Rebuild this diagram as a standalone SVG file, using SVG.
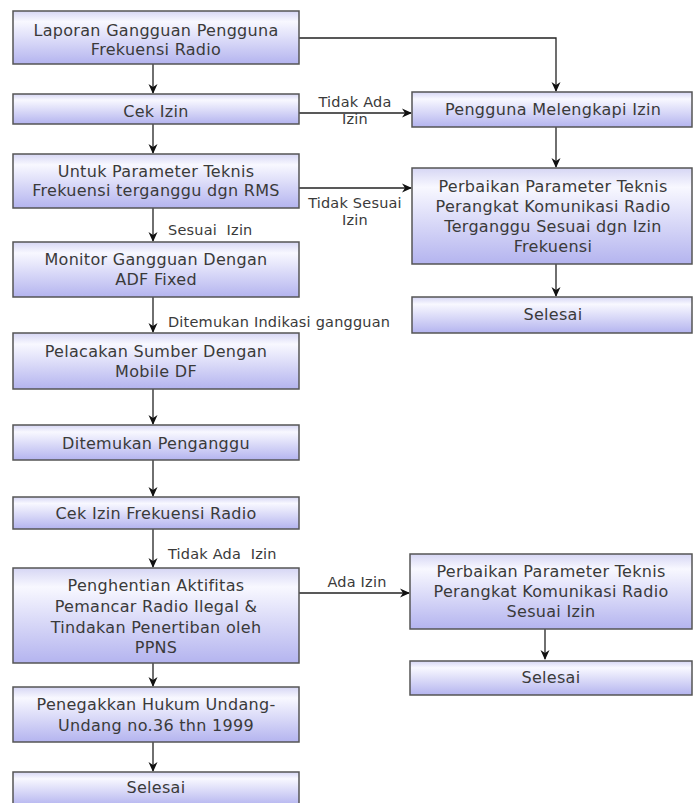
<svg xmlns="http://www.w3.org/2000/svg" width="693" height="803" viewBox="0 0 693 803">
<defs>
<linearGradient id="g" x1="0" y1="0" x2="0" y2="1">
<stop offset="0" stop-color="#d6d6f4"/>
<stop offset="0.2" stop-color="#f8f8ff"/>
<stop offset="1" stop-color="#b4b4ef"/>
</linearGradient>
<marker id="ah" markerWidth="10" markerHeight="10" refX="9" refY="5" orient="auto" markerUnits="userSpaceOnUse">
<path d="M0,0.5 L10,5 L0,9.5 L3,5 z" fill="#111"/>
</marker>
<style>
rect.b{fill:url(#g);stroke:#555;stroke-width:1.5}
text{font-family:"DejaVu Sans",Verdana,sans-serif;fill:#3a3a3a}
text.n{font-size:16px;text-anchor:middle;letter-spacing:0.3px}
text.l{font-size:14.5px;letter-spacing:0.2px}
text.lc{font-size:14.5px;letter-spacing:0.2px;text-anchor:middle}
.c{fill:none;stroke:#222;stroke-width:1.3}
</style>
</defs>
<g id="connectors">
<path class="c" d="M153,64 V93" marker-end="url(#ah)"/>
<path class="c" d="M153,124 V153" marker-end="url(#ah)"/>
<path class="c" d="M153,208 V241" marker-end="url(#ah)"/>
<path class="c" d="M153,297 V332" marker-end="url(#ah)"/>
<path class="c" d="M153,389 V424" marker-end="url(#ah)"/>
<path class="c" d="M153,460 V496" marker-end="url(#ah)"/>
<path class="c" d="M153,529 V567" marker-end="url(#ah)"/>
<path class="c" d="M153,663 V686" marker-end="url(#ah)"/>
<path class="c" d="M153,742 V771" marker-end="url(#ah)"/>
<path class="c" d="M299,38 H556 V91" marker-end="url(#ah)"/>
<path class="c" d="M299,113 H411" marker-end="url(#ah)"/>
<path class="c" d="M299,188 H411" marker-end="url(#ah)"/>
<path class="c" d="M556,127 V167" marker-end="url(#ah)"/>
<path class="c" d="M556,264 V296" marker-end="url(#ah)"/>
<path class="c" d="M299,593 H409" marker-end="url(#ah)"/>
<path class="c" d="M545,629 V659" marker-end="url(#ah)"/>
<text class="lc" x="355" y="107">Tidak Ada</text>
<text class="lc" x="355" y="124">Izin</text>
<text class="lc" x="355" y="208">Tidak Sesuai</text>
<text class="lc" x="355" y="225">Izin</text>
<text class="l" x="168" y="235" xml:space="preserve">Sesuai  Izin</text>
<text class="l" x="168" y="327">Ditemukan Indikasi gangguan</text>
<text class="l" x="168" y="559" xml:space="preserve">Tidak Ada  Izin</text>
<text class="lc" x="357" y="587">Ada Izin</text>
</g>
<g id="n1"><rect class="b" x="13" y="11" width="286" height="53"/><text class="n" x="156" y="36">Laporan Gangguan Pengguna</text><text class="n" x="156" y="55">Frekuensi Radio</text></g>
<g id="n2"><rect class="b" x="13" y="94" width="286" height="30"/><text class="n" x="156" y="117">Cek Izin</text></g>
<g id="n3"><rect class="b" x="13" y="154" width="286" height="54"/><text class="n" x="156" y="177">Untuk Parameter Teknis</text><text class="n" x="156" y="196">Frekuensi terganggu dgn RMS</text></g>
<g id="n4"><rect class="b" x="13" y="242" width="286" height="55"/><text class="n" x="156" y="265">Monitor Gangguan Dengan</text><text class="n" x="156" y="285">ADF Fixed</text></g>
<g id="n5"><rect class="b" x="13" y="333" width="286" height="56"/><text class="n" x="156" y="357">Pelacakan Sumber Dengan</text><text class="n" x="156" y="377">Mobile DF</text></g>
<g id="n6"><rect class="b" x="13" y="425" width="286" height="35"/><text class="n" x="156" y="449">Ditemukan Penganggu</text></g>
<g id="n7"><rect class="b" x="13" y="497" width="286" height="32"/><text class="n" x="156" y="519">Cek Izin Frekuensi Radio</text></g>
<g id="n8"><rect class="b" x="13" y="568" width="286" height="95"/><text class="n" x="156" y="591">Penghentian Aktifitas</text><text class="n" x="156" y="612">Pemancar Radio Ilegal &amp;</text><text class="n" x="156" y="633">Tindakan Penertiban oleh</text><text class="n" x="156" y="653">PPNS</text></g>
<g id="n9"><rect class="b" x="13" y="687" width="286" height="55"/><text class="n" x="156" y="710">Penegakkan Hukum Undang-</text><text class="n" x="156" y="731">Undang no.36 thn 1999</text></g>
<g id="n10"><rect class="b" x="13" y="772" width="286" height="34"/><text class="n" x="156" y="793">Selesai</text></g>
<g id="r1"><rect class="b" x="412" y="92" width="280" height="35"/><text class="n" x="553" y="115">Pengguna Melengkapi Izin</text></g>
<g id="r2"><rect class="b" x="412" y="168" width="280" height="96"/><text class="n" x="553" y="192">Perbaikan Parameter Teknis</text><text class="n" x="553" y="212">Perangkat Komunikasi Radio</text><text class="n" x="553" y="232">Terganggu Sesuai dgn Izin</text><text class="n" x="553" y="252">Frekuensi</text></g>
<g id="r3"><rect class="b" x="412" y="297" width="280" height="36"/><text class="n" x="553" y="320">Selesai</text></g>
<g id="r4"><rect class="b" x="410" y="554" width="282" height="75"/><text class="n" x="551" y="577">Perbaikan Parameter Teknis</text><text class="n" x="551" y="597">Perangkat Komunikasi Radio</text><text class="n" x="551" y="617">Sesuai Izin</text></g>
<g id="r5"><rect class="b" x="410" y="661" width="282" height="34"/><text class="n" x="551" y="683">Selesai</text></g>
</svg>
